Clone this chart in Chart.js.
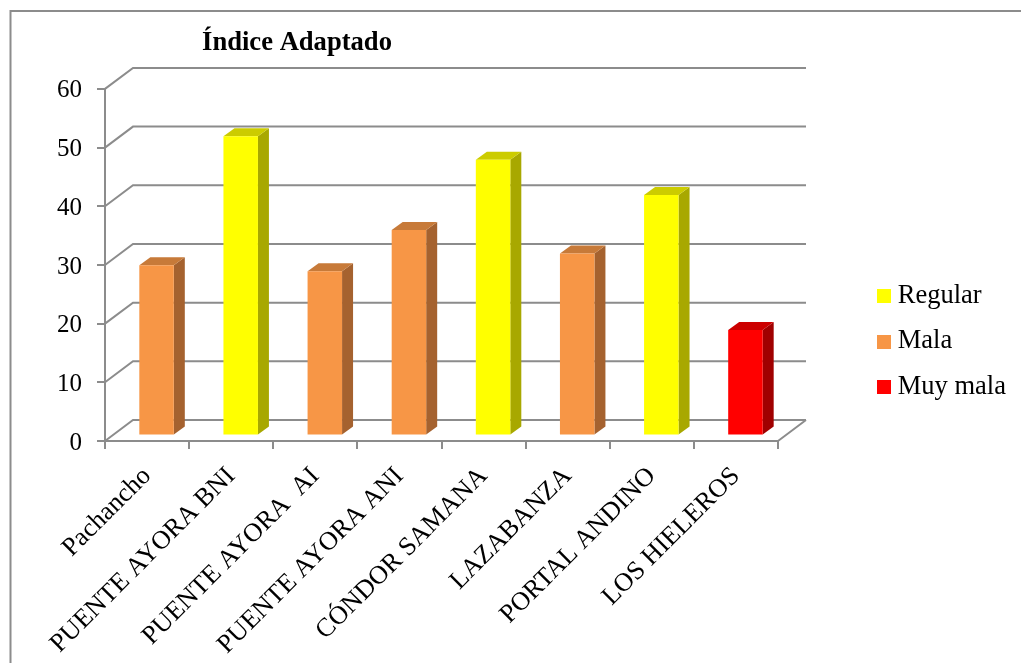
<!DOCTYPE html>
<html>
<head>
<meta charset="utf-8">
<title>Índice Adaptado</title>
<script src="https://cdn.jsdelivr.net/npm/chart.js@4"></script>
<style>
    html, body { margin: 0; padding: 0; background: #fff; overflow: hidden; }
    canvas { display: block; }
</style>
</head>
<body>
<canvas id="grafico" width="1021" height="663"></canvas>
<script>
const categorias = ['Pachancho', 'PUENTE AYORA BNI', 'PUENTE AYORA  AI', 'PUENTE AYORA ANI', 'CÓNDOR SAMANA', 'LAZABANZA', 'PORTAL ANDINO', 'LOS HIELEROS'];
const regular = [null, 51, null, null, 47, null, 41, null];
const mala = [29, null, 28, 35, null, 31, null, null];
const muyMala = [null, null, null, null, null, null, null, 18];
const ticksY = [0, 10, 20, 30, 40, 50, 60];

const gris = '#8c8c8c';
const fuente = '"Liberation Serif", "Times New Roman", serif';
// frente, lado, tapa
const tonos = {
    Regular: ['#ffff00', '#a8a800', '#cccc00'],
    Mala: ['#f79646', '#a5622f', '#c77a39'],
    'Muy mala': ['#ff0000', '#a00000', '#cc0000']
};

function cuadroLeyenda(color) {
    let c = document.createElement('canvas');
    c.width = 14;
    c.height = 14;
    let g = c.getContext('2d');
    g.fillStyle = color;
    g.fillRect(0, 0, 14, 14);
    return c;
}

function poligono(ctx, color, puntos) {
    ctx.fillStyle = color;
    ctx.beginPath();
    puntos.forEach((p, i) => i ? ctx.lineTo(p[0], p[1]) : ctx.moveTo(p[0], p[1]));
    ctx.closePath();
    ctx.fill();
}

// perspectiva de la pared del fondo y de las barras
const fondoX = 28, fondoY = -21;
const barraX = 9.5, barraY = -5.5;
const ladoX = 11, ladoY = -8;

const efecto3d = {
    id: 'efecto3d',
    beforeDraw(chart) {
        let ctx = chart.ctx;
        ctx.save();
        ctx.strokeStyle = gris;
        ctx.lineWidth = 2;
        ctx.beginPath();
        ctx.moveTo(10.5, chart.height);
        ctx.lineTo(10.5, 11);
        ctx.lineTo(chart.width, 11);
        ctx.stroke();
        ctx.restore();
    },
    afterLayout(chart) {
        chart.titleBlock.left = 0;
        chart.titleBlock.right = 594;
        let ley = chart.legend;
        ley.left = 864.5;
        ley.right = 1021;
        ley.top = 251.5;
        ley.bottom = 431.5;
    },
    beforeDatasetsDraw(chart) {
        let ctx = chart.ctx, a = chart.chartArea, y = chart.scales.y;
        ctx.save();
        ctx.strokeStyle = gris;
        ctx.lineWidth = 2;
        ctx.beginPath();
        y.ticks.forEach((t, i) => {
            let py = y.getPixelForTick(i);
            ctx.moveTo(a.left, py);
            ctx.lineTo(a.left + fondoX, py + fondoY);
            ctx.lineTo(a.right + fondoX, py + fondoY);
        });
        ctx.moveTo(a.right, a.bottom);
        ctx.lineTo(a.right + fondoX, a.bottom + fondoY);
        ctx.stroke();
        ctx.restore();
    },
    beforeDatasetDraw(chart, args) {
        let ctx = chart.ctx;
        let d = chart.data.datasets[args.index];
        let t = tonos[d.label];
        ctx.save();
        ctx.translate(barraX, barraY);
        args.meta.data.forEach((el, i) => {
            if (d.data[i] === null) return;
            let der = el.x + el.width / 2, izq = el.x - el.width / 2;
            poligono(ctx, t[1], [[der, el.y], [der + ladoX, el.y + ladoY], [der + ladoX, el.base + ladoY], [der, el.base]]);
            poligono(ctx, t[2], [[izq, el.y], [izq + ladoX, el.y + ladoY], [der + ladoX, el.y + ladoY], [der, el.y]]);
        });
    },
    afterDatasetDraw(chart) {
        chart.ctx.restore();
    }
};

new Chart(document.getElementById('grafico').getContext('2d'), {
    type: 'bar',
    data: {
        labels: categorias,
        datasets: [
            { label: 'Regular', data: regular, backgroundColor: tonos.Regular[0] },
            { label: 'Mala', data: mala, backgroundColor: tonos.Mala[0] },
            { label: 'Muy mala', data: muyMala, backgroundColor: tonos['Muy mala'][0] }
        ]
    },
    options: {
        responsive: false,
        animation: false,
        barPercentage: 0.41,
        categoryPercentage: 1,
        layout: { padding: { right: 243 } },
        scales: {
            x: {
                stacked: true,
                afterFit: s => { s.height = 222; },
                border: { color: gris, width: 2 },
                grid: { drawOnChartArea: false, color: gris, lineWidth: 2, tickLength: 8 },
                ticks: {
                    autoSkip: false,
                    maxRotation: 45,
                    minRotation: 45,
                    color: '#000',
                    padding: 12,
                    font: { family: fuente, size: 26.2 }
                }
            },
            y: {
                stacked: true,
                min: 0,
                max: 60,
                afterFit: s => { s.width = 105; },
                afterBuildTicks: s => { s.ticks = ticksY.map(v => ({ value: v })); },
                border: { color: gris, width: 2 },
                grid: { drawOnChartArea: false, color: gris, lineWidth: 2, tickLength: 8 },
                ticks: {
                    color: '#000',
                    padding: 15,
                    labelOffset: 2,
                    font: { family: fuente, size: 25 }
                }
            }
        },
        plugins: {
            title: {
                display: true,
                text: 'Índice Adaptado',
                color: '#000',
                padding: { top: 27, bottom: 30 },
                font: { family: fuente, size: 26.6, weight: 'bold' }
            },
            legend: {
                position: 'chartArea',
                labels: {
                    usePointStyle: true,
                    pointStyleWidth: 1,
                    padding: 19,
                    color: '#000',
                    font: { family: fuente, size: 26.5 },
                    generateLabels: chart => chart.data.datasets.map((d, i) => ({
                        text: d.label,
                        datasetIndex: i,
                        fontColor: '#000',
                        lineWidth: 0,
                        pointStyle: cuadroLeyenda(d.backgroundColor)
                    }))
                }
            },
            tooltip: { enabled: false }
        }
    },
    plugins: [efecto3d]
});
</script>
</body>
</html>
